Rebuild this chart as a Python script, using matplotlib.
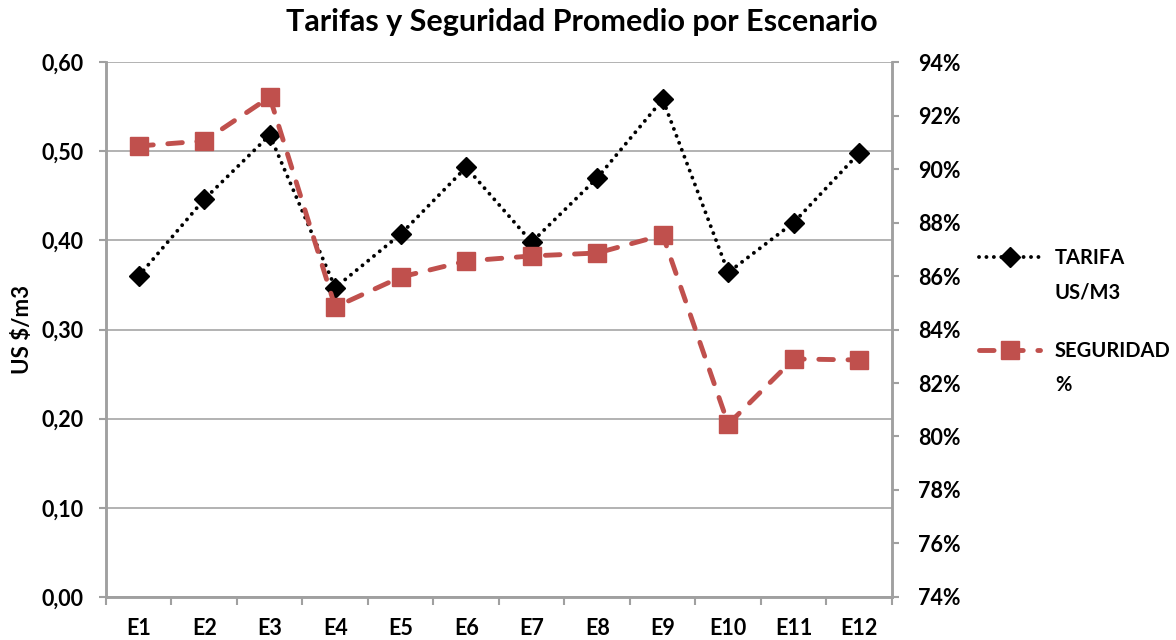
import numpy as np
import matplotlib.pyplot as plt
from matplotlib.ticker import FuncFormatter, FixedLocator

plt.rcParams['font.family'] = ['Lato', 'DejaVu Sans']
plt.rcParams['font.weight'] = 'bold'

escenarios = ['E1', 'E2', 'E3', 'E4', 'E5', 'E6', 'E7', 'E8', 'E9', 'E10', 'E11', 'E12']
tarifa = [0.360, 0.446, 0.518, 0.347, 0.407, 0.482, 0.398, 0.470, 0.558, 0.364, 0.420, 0.498]
seguridad = [90.86, 91.05, 92.69, 84.84, 85.96, 86.56, 86.75, 86.86, 87.53, 80.46, 82.90, 82.86]

gris = '#a0a0a0'
rojo = '#c0504d'

fig = plt.figure(figsize=(11.76, 6.4), dpi=100)
ax = fig.add_axes([0.0901, 0.0672, 0.6684, 0.8359])
ax2 = ax.twinx()

x = np.arange(len(escenarios))
l1, = ax.plot(x, tarifa, color='black', linestyle=(0, (0.01, 1.9)), linewidth=2.8,
              dash_capstyle='round', marker='D', markersize=10, label='TARIFA')
l2, = ax2.plot(x, seguridad, color=rojo, linestyle=(0, (3.0, 3.0)), linewidth=3.5,
               dash_capstyle='round', marker='s', markersize=13, label='SEGURIDAD')

ax.set_xlim(-0.5, len(escenarios) - 0.5)
ax.set_ylim(0, 0.6)
ax2.set_ylim(74, 94)

ax.set_yticks(np.arange(0, 0.61, 0.1))
ax.yaxis.set_major_formatter(FuncFormatter(lambda v, p: f'{v:.2f}'.replace('.', ',')))
ax2.set_yticks(np.arange(74, 95, 2))
ax2.yaxis.set_major_formatter(FuncFormatter(lambda v, p: f'{v:.0f}%'))

ax.set_xticks(x)
ax.set_xticklabels(escenarios)
ax.xaxis.set_minor_locator(FixedLocator(np.arange(-0.5, len(escenarios), 1)))
ax.tick_params(axis='x', which='major', length=0, pad=15, labelsize=15.5)
ax.tick_params(axis='x', which='minor', length=6, color=gris, width=1.5, direction='out')
ax.tick_params(axis='y', length=5, color=gris, width=1.5, labelsize=15.5, pad=11)
ax2.tick_params(axis='y', length=5, color=gris, width=1.5, labelsize=15.5, pad=14)

ax.grid(axis='y', color='#a6a6a6', linewidth=1.2)
ax.set_axisbelow(True)
for a in (ax, ax2):
    a.spines['top'].set_visible(False)
    for s in ('left', 'right', 'bottom'):
        a.spines[s].set_color(gris)
        a.spines[s].set_linewidth(1.8)

ax.set_ylabel('US $/m3', fontsize=16, fontweight='bold', labelpad=6)
fig.text(0.495, 0.965, 'Tarifas y Seguridad Promedio por Escenario', fontsize=22,
         fontweight='bold', ha='center', va='center')

# leyenda: el handle va alineado con la primera linea del texto
leg = fig.legend(handles=[l1, l2], loc='upper left', bbox_to_anchor=(0.826, 0.625),
                 frameon=False, fontsize=14.5, handlelength=3.0, labelspacing=3.6,
                 handletextpad=0.75, borderaxespad=0)
fig.canvas.draw()
for txt, extra in zip(leg.get_texts(), ['US/M3', '%']):
    bb = txt.get_window_extent().transformed(fig.transFigure.inverted())
    fig.text(bb.x0, bb.y0 - 0.022, extra, fontsize=14.5, fontweight='bold', ha='left', va='top')

fig.savefig('out.png', dpi=100)
